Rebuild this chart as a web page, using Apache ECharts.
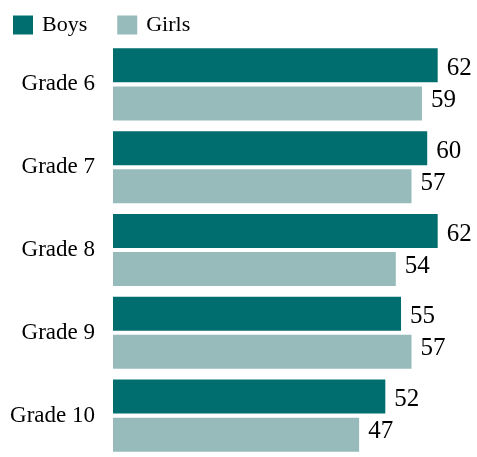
<!DOCTYPE html>
<html>
<head>
<meta charset="utf-8">
<style>html,body{margin:0;padding:0;background:#fff}#c{width:477px;height:457px}</style>
<script src="https://cdn.jsdelivr.net/npm/echarts@6/dist/echarts.min.js"></script>
</head>
<body>
<div id="c"></div>
<script>
const categories = ['Grade 6', 'Grade 7', 'Grade 8', 'Grade 9', 'Grade 10'];
const boys = [62, 60, 62, 55, 52];
const girls = [59, 57, 54, 57, 47];
const seriesNames = ['Boys', 'Girls'];

const FONT = 'Liberation Serif';
const chart = echarts.init(document.getElementById('c'), null, {renderer: 'canvas'});
chart.setOption({
  animation: false,
  backgroundColor: '#ffffff',
  textStyle: {fontFamily: FONT},
  legend: {
    left: 8, top: 9,
    itemWidth: 20, itemHeight: 19,
    itemGap: 30,
    icon: 'rect',
    textStyle: {fontFamily: FONT, fontSize: 22, color: '#000', padding: [0, 0, 0, 4]},
    data: seriesNames
  },
  grid: {left: 113, right: 23.6, top: 43, bottom: -6, containLabel: false},
  xAxis: {type: 'value', min: 0, max: 65, show: false},
  yAxis: {
    type: 'category', data: categories, inverse: true,
    axisLine: {show: false}, axisTick: {show: false},
    axisLabel: {fontFamily: FONT, fontSize: 23, color: '#000', margin: 18}
  },
  series: [
    {name: seriesNames[0], type: 'bar', data: boys, barWidth: 34, barGap: '12%',
     itemStyle: {color: '#006e6e'},
     label: {show: true, position: 'right', distance: 9, offset: [0, 3], fontFamily: FONT, fontSize: 25, color: '#000'}},
    {name: seriesNames[1], type: 'bar', data: girls, barWidth: 34, barGap: '12%',
     itemStyle: {color: '#97bbbb'},
     label: {show: true, position: 'right', distance: 9, offset: [0, -3], fontFamily: FONT, fontSize: 25, color: '#000'}}
  ]
});
</script>
</body>
</html>
